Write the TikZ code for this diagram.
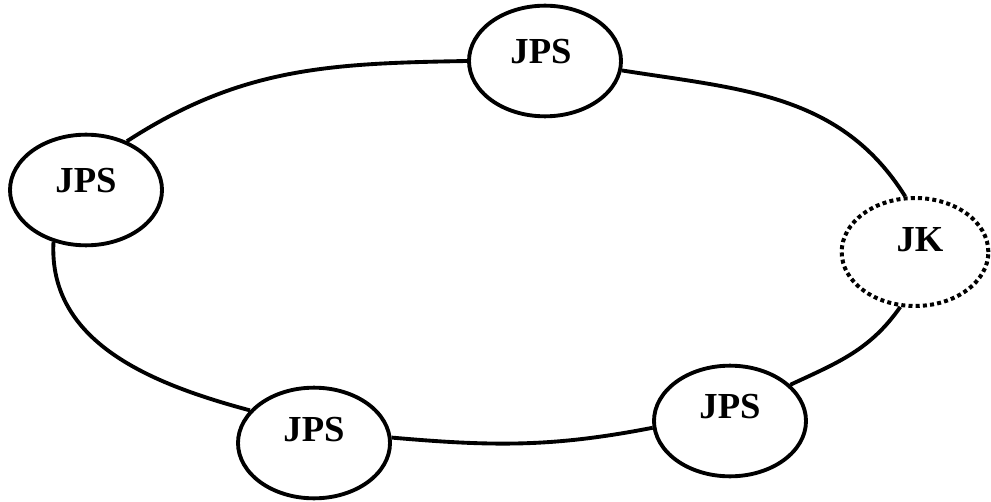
\documentclass[tikz,border=0pt]{standalone}
\usepackage{fontspec}
\setmainfont{Liberation Serif}
\usetikzlibrary{shapes.geometric}
\begin{document}
\begin{tikzpicture}[x=0.75pt,y=-0.75pt,
  station/.style={ellipse,draw,line width=2.9pt,fill=white,
    minimum width=114pt,minimum height=83pt,inner sep=0pt},
  ghost/.style={station,line width=3pt,dash pattern=on 3pt off 2.4pt,
    minimum width=110pt,minimum height=81pt},
  tag/.style={font=\fontsize{27.5}{32}\selectfont\bfseries,inner sep=0pt,text depth=0pt},
  ring/.style={line width=2.9pt}]
\useasboundingbox (0,0) rectangle (991,502);

% stations on the ring
\node[station] (T)  at (545,61)  {};
\node[station] (L)  at (86,190)  {};
\node[ghost]   (K)  at (915,252) {};
\node[station] (BL) at (314,443) {};
\node[station] (BR) at (730,421) {};

% station names
\node[tag] (tT)  at ([shift={(-4,-10)}]T.center)  {JPS};
\node[tag] (tL)  at ([shift={(0,-10)}]L.center)   {JPS};
\node[tag] (tK)  at ([shift={(5,-13)}]K.center)   {JK};
\node[tag] (tBL) at ([shift={(0,-14)}]BL.center)  {JPS};
\node[tag] (tBR) at ([shift={(0,-15)}]BR.center)  {JPS};

% ring segments between neighbouring stations
\draw[ring] (T.180)  to[out=181,in=33]  (L.50);
\draw[ring] (L.-122) to[out=267,in=165] (BL.153);
\draw[ring] (BL.4)   to[out=-5,in=191]  (BR.185);
\draw[ring] (BR.31)  to[out=25,in=235]  (K.-105);
\draw[ring] (K.100)  to[out=122,in=-9]  (T.-7);
\end{tikzpicture}
\end{document}
